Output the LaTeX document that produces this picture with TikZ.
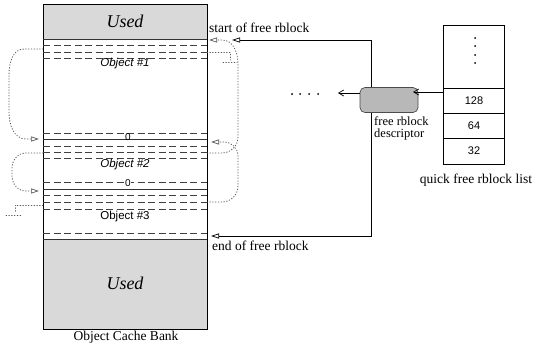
\documentclass[tikz,border=0pt]{standalone}
\usepackage{fontspec}
\setmainfont{Liberation Serif}
\setsansfont{Liberation Sans}
\usetikzlibrary{arrows.meta}
\definecolor{usedgray}{gray}{0.85}
\definecolor{descgray}{gray}{0.72}
\tikzset{
  solidline/.style={line width=0.8pt, black!80},
  dashline/.style={line width=0.7pt, black!75, dash pattern=on 7pt off 3.5pt},
  ptr/.style={line width=0.9pt, black!65, dash pattern=on 0.6pt off 2.2pt, line cap=round},
  opentip/.style={-{Triangle[open,length=8pt,width=5pt,line width=0.7pt]}},
  barb/.style={line width=0.7pt,-{Straight Barb[length=5pt,width=6pt]}},
  serif/.style={font=\fontsize{13.5}{13.5}\selectfont, inner sep=0pt},
  objlbl/.style={font=\sffamily\itshape\fontsize{11.5}{12}\selectfont, inner sep=0pt},
  usedlbl/.style={font=\itshape\fontsize{18}{18}\selectfont, inner sep=0pt},
  cellbox/.style={draw, line width=0.7pt, minimum width=61pt, inner sep=0pt, font=\sffamily\fontsize{11}{11}\selectfont},
  tinydot/.style={fill=black, circle, inner sep=0pt, minimum size=2pt}
}
\begin{document}
\begin{tikzpicture}[x=1pt,y=-1pt]
\useasboundingbox (0,0) rectangle (535,346);

% ---------- bank ----------
\fill[usedgray] (43,4) rectangle (207,39);
\fill[usedgray] (43,239) rectangle (207,329);
\node[draw, line width=0.8pt, minimum width=164pt, minimum height=325pt, inner sep=0pt, anchor=north west] (bank) at (43,4) {};
\draw[solidline] (43,39) -- (207,39);
\draw[solidline] (43,239) -- (207,239);
\draw[solidline] (43,139) -- (207,139);
\draw[solidline] (43,189) -- (207,189);
\foreach \yy in {45,52,58,133,146,152,158,182,195,202,209,233}
  \draw[dashline] (43,\yy) -- (207,\yy);

\node[usedlbl] (used1) at (125,21) {Used};
\node[usedlbl] (used2) at (125,283) {Used};
\node[objlbl] (obj1) at (125,64) {Object \#1};
\node[objlbl] (obj2) at (125,165) {Object \#2};
\node[objlbl, font=\sffamily\fontsize{11.5}{12}\selectfont] (obj3) at (125,217) {Object \#3};
\node[font=\sffamily\fontsize{10}{10}\selectfont, inner sep=0.5pt] (z1) at (128,137) {0};
\node[font=\sffamily\fontsize{10}{10}\selectfont, inner sep=0.5pt, fill=white] (z2) at (128,183) {0};
\node[serif] (bankname) at (126,337) {Object Cache Bank};

% ---------- left pointer curves ----------
\coordinate (l1s) at (43,49);
\coordinate (l1e) at (39,139);
\coordinate (l2s) at (43,153);
\coordinate (l2e) at (39,191);
\coordinate (l3s) at (43,205);
\draw[ptr, opentip] (l1s) -- (24,49) to[out=180,in=90] (9,75) -- (9,112) to[out=-90,in=180] (26,139) -- (l1e);
\draw[ptr, opentip] (l2s) -- (26,153) to[out=180,in=90] (12,168) -- (12,176) to[out=-90,in=180] (26,191) -- (l2e);
\draw[ptr] (l3s) -- (15,205) -- (15,213);
\draw[ptr] (6,215) -- (22,215);

% ---------- right pointer curves ----------
\coordinate (r1s) at (207,153);
\coordinate (r1e) at (209,40);
\coordinate (r2s) at (207,202);
\coordinate (r2e) at (211,142);
\coordinate (r3s) at (207,52);
\draw[ptr, opentip] (r1s) -- (222,153) to[out=0,in=-90] (238,137) -- (238,64) to[out=90,in=0] (222,40) -- (r1e);
\draw[ptr, opentip] (r2s) -- (222,202) to[out=0,in=-90] (238,186) -- (238,156) to[out=90,in=0] (224,142) -- (r2e);
\draw[ptr] (r3s) -- (230,52) -- (230,60);
\draw[ptr] (223,62) -- (237,62);

% ---------- labels ----------
\node[serif, anchor=west] (startlbl) at (209,28) {start of free rblock};
\node[serif, anchor=west] (endlbl) at (212,246) {end of free rblock};

% ---------- descriptor ----------
\node[draw=black!70, line width=0.7pt, fill=descgray, rounded corners=5pt, minimum width=58pt, minimum height=25pt, inner sep=0pt] (desc) at (389,100) {};
\node[serif, anchor=base west, font=\fontsize{12.5}{12.5}\selectfont] (desclbl1) at (374,125) {free rblock};
\node[serif, anchor=base west, font=\fontsize{12.5}{12.5}\selectfont] (desclbl2) at (374,137.5) {descriptor};
\coordinate (vx) at (371,0);
\coordinate (sTip) at (232,40);
\coordinate (eTip) at (211,236);
\draw[line width=0.8pt, opentip] (desc.north -| vx) |- (sTip);
\draw[line width=0.8pt, opentip] (desc.south -| vx) |- (eTip);
\coordinate (dl) at (338,93);
\draw[barb] (desc.west |- dl) -- (dl);

% dots
\foreach \xx [count=\i] in {292,300,309,318}
  \node[tinydot] (hd\i) at (\xx,94) {};

% ---------- quick free list ----------
\node[cellbox, minimum height=63pt] (cellA) at (474,56.5) {};
\node[cellbox, minimum height=25pt] (c128) at (474,100.5) {128};
\node[cellbox, minimum height=25pt] (c64) at (474,125.5) {64};
\node[cellbox, minimum height=26pt] (c32) at (474,151) {32};
\foreach \yy [count=\i] in {38,46,55,63}
  \node[tinydot] (vd\i) at (475,\yy) {};
\coordinate (dr) at (413,92);
\draw[barb] (c128.west |- dr) -- (dr);
\node[serif] (listlbl) at (476,180) {quick free rblock list};
\end{tikzpicture}
\end{document}
